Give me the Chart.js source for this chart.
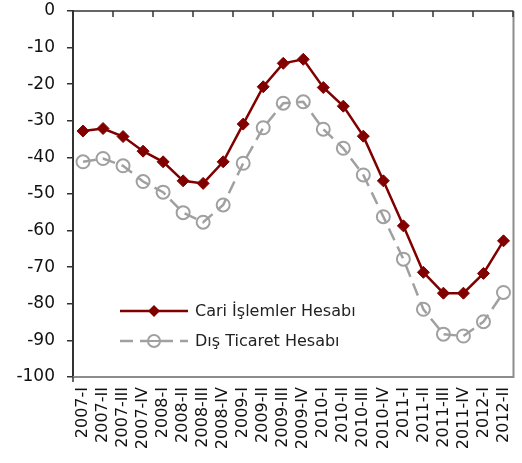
<!DOCTYPE html>
<html><head><meta charset="utf-8">
<script src="https://cdn.jsdelivr.net/npm/chart.js@4"></script>
<style>html,body{margin:0;padding:0;background:#fff}#w{width:522px;height:463px}</style>
</head><body><div id="w"><canvas id="c" width="522" height="463"></canvas></div>
<script>
const categories = ["2007-I","2007-II","2007-III","2007-IV","2008-I","2008-II","2008-III","2008-IV","2009-I","2009-II","2009-III","2009-IV","2010-I","2010-II","2010-III","2010-IV","2011-I","2011-II","2011-III","2011-IV","2012-I","2012-II"];
const cariIslemler = [-32.8,-32.1,-34.3,-38.3,-41.2,-46.4,-47.1,-41.2,-30.9,-20.7,-14.3,-13.2,-20.9,-26.0,-34.2,-46.4,-58.7,-71.4,-77.1,-77.1,-71.7,-62.8];
const disTicaret = [-41.2,-40.3,-42.3,-46.6,-49.5,-55.1,-57.7,-53.0,-41.6,-31.9,-25.2,-24.8,-32.3,-37.5,-44.8,-56.2,-67.8,-81.5,-88.3,-88.8,-84.9,-76.9];
const seriesNames = ["Cari İşlemler Hesabı","Dış Ticaret Hesabı"];
const yMin = -100, yMax = 0, yStep = 10;

const FONT = "'DejaVu Sans', sans-serif";
const RED = '#800000', GRAY = '#A0A0A0';

const framePlugin = {
  id: 'frame',
  beforeDatasetsDraw(chart) {
    const {ctx, chartArea: a, scales: {x}} = chart;
    ctx.save();
    ctx.strokeStyle = '#8c8c8c'; ctx.lineWidth = 2;
    ctx.beginPath();
    ctx.moveTo(a.left, a.bottom); ctx.lineTo(a.right, a.bottom); ctx.lineTo(a.right, a.top);
    ctx.stroke();
    ctx.strokeStyle = '#333'; ctx.lineWidth = 1.5;
    ctx.beginPath();
    ctx.moveTo(a.left, a.top); ctx.lineTo(a.right, a.top); ctx.stroke();
    const n = categories.length;
    const w = (x.getPixelForValue(1) - x.getPixelForValue(0));
    for (let i = 0; i <= n; i += 2) {
      const px = Math.round(x.getPixelForValue(0) - w/2 + i*w);
      ctx.beginPath(); ctx.moveTo(px, a.top); ctx.lineTo(px, a.top + 6); ctx.stroke();
    }
    ctx.beginPath(); ctx.moveTo(a.left, a.bottom); ctx.lineTo(a.left, a.bottom + 5); ctx.stroke();
    ctx.restore();
  },
  afterDraw(chart) {
    const {ctx} = chart;
    const ds = chart.data.datasets;
    ctx.save();
    ctx.font = '16px ' + FONT;
    ctx.textBaseline = 'middle';
    const rows = [311, 341];
    rows.forEach((y, i) => {
      const d = ds[i];
      ctx.strokeStyle = d.borderColor; ctx.lineWidth = d.borderWidth;
      ctx.setLineDash(d.borderDash || []);
      ctx.beginPath(); ctx.moveTo(120, y); ctx.lineTo(188, y); ctx.stroke();
      ctx.setLineDash([]);
      if (i === 0) {
        ctx.fillStyle = RED;
        ctx.beginPath(); ctx.moveTo(154, y-6); ctx.lineTo(160, y); ctx.lineTo(154, y+6); ctx.lineTo(148, y); ctx.closePath(); ctx.fill();
      } else {
        ctx.fillStyle = '#fff';
        ctx.lineWidth = 2;
        ctx.beginPath(); ctx.arc(154, y, 6, 0, Math.PI*2); ctx.fill(); ctx.stroke();
        ctx.beginPath(); ctx.moveTo(148,y); ctx.lineTo(160,y); ctx.stroke();
      }
      ctx.fillStyle = '#222';
      ctx.fillText(seriesNames[i], 195, y + 1);
    });
    ctx.restore();
  }
};

new Chart(document.getElementById('c'), {
  type: 'line',
  data: {
    labels: categories,
    datasets: [
      { label: seriesNames[0], data: cariIslemler, borderColor: RED, backgroundColor: RED, borderWidth: 2.5,
        pointStyle: 'rectRot', pointRadius: 6, pointHoverRadius: 6, pointBackgroundColor: RED, pointBorderColor: RED, pointBorderWidth: 1, tension: 0 },
      { label: seriesNames[1], data: disTicaret, borderColor: GRAY, backgroundColor: 'rgba(0,0,0,0)', borderWidth: 2.5, borderDash: [13, 7],
        pointStyle: 'circle', pointRadius: 6.5, pointHoverRadius: 6.5, pointBackgroundColor: 'rgba(0,0,0,0)', pointBorderColor: GRAY, pointBorderWidth: 2, tension: 0 }
    ]
  },
  options: {
    responsive: false, animation: false,
    layout: { padding: { top: 11, right: 5, left: 0, bottom: 0 } },
    plugins: { legend: { display: false }, tooltip: { enabled: false } },
    scales: {
      x: {
        offset: true,
        grid: { display: false, drawTicks: false },
        border: { display: false },
        ticks: { autoSkip: false, minRotation: 90, maxRotation: 90, padding: 10, color: '#111', font: { family: FONT, size: 16 } },
        afterFit(s) { s.height = 86; s.paddingLeft = 0; s.paddingRight = 0; }
      },
      y: {
        min: yMin, max: yMax,
        grid: { drawOnChartArea: false, drawTicks: true, tickLength: 6, color: '#333', lineWidth: 1.5 },
        border: { display: true, color: '#333', width: 2 },
        ticks: { stepSize: yStep, padding: 12, color: '#111', font: { family: FONT, size: 17 } },
        afterFit(s) { s.width = 73; s.paddingTop = 0; s.paddingBottom = 0; }
      }
    }
  },
  plugins: [framePlugin]
});
</script>
</body></html>
